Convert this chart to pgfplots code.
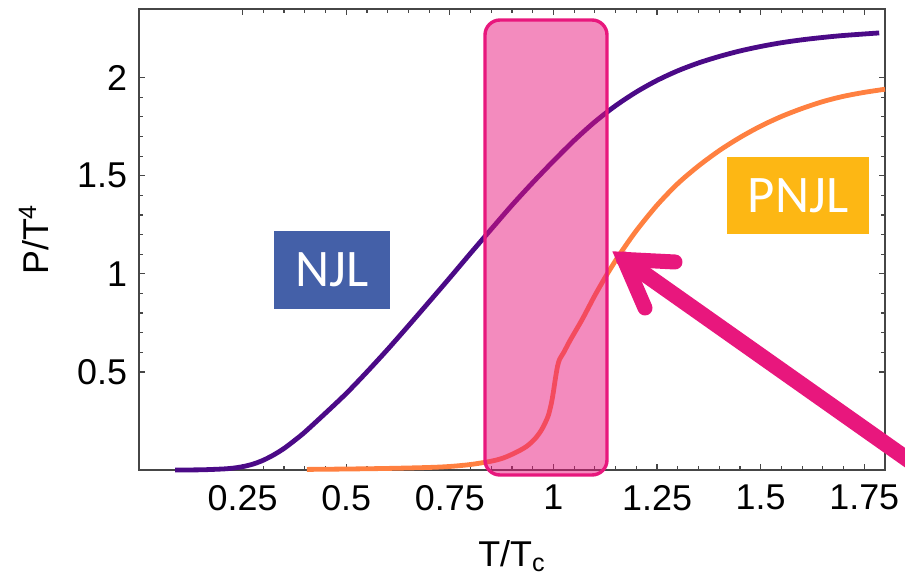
\documentclass[border=0pt]{standalone}
\usepackage{fontspec}
\setmainfont{Liberation Sans}
\newfontfamily\calibri{Carlito}
\usepackage{pgfplots}
\pgfplotsset{compat=1.18}
\definecolor{njl}{RGB}{75,10,135}
\definecolor{pnjl}{RGB}{255,128,64}
\definecolor{mag}{RGB}{232,23,125}
\definecolor{boxblue}{RGB}{68,96,168}
\definecolor{boxorange}{RGB}{253,183,20}
\definecolor{axgray}{RGB}{70,70,70}
\begin{document}
\begin{tikzpicture}
\path[use as bounding box] (-69.5bp,-53.5bp) rectangle (383bp,235bp);
\clip (-69.5bp,-53.5bp) rectangle (383bp,235bp);
\begin{axis}[
  at={(0,0)}, anchor=south west,
  scale only axis, width=373bp, height=230.5bp,
  xmin=0, xmax=1.8, ymin=0, ymax=2.35,
  xtick={0.25,0.5,0.75,1,1.25,1.5,1.75},
  xticklabels={0.25,0.5,0.75,1,1.25,1.5,1.75},
  ytick={0.5,1,1.5,2},
  yticklabels={0.5,1,1.5,2},
  minor x tick num=4, minor y tick num=4,
  tick align=inside,
  major tick length=3bp, minor tick length=2bp,
  every tick/.style={axgray, line width=0.6bp},
  axis line style={axgray, line width=0.8bp},
  tick label style={font=\fontsize{18}{20}\selectfont},
  /pgf/number format/assume math mode=true,
  xticklabel style={yshift=-4bp},
  yticklabel style={xshift=-2.5bp},
  xlabel={T/T\textsubscript{c}},
  ylabel={P/T\textsuperscript{4}},
  label style={font=\fontsize{18}{20}\selectfont},
  xlabel style={at={(axis description cs:0.5,-0.21)}, anchor=base},
  ylabel style={at={(axis description cs:-0.141,0.5)}, anchor=center},
  clip=false,
]
\addplot[njl, line width=2.4bp, smooth] coordinates {
(0.087,0.0) (0.15,0.001) (0.2,0.005) (0.225,0.009) (0.25,0.017) (0.275,0.03)
(0.3,0.05) (0.325,0.077) (0.35,0.11) (0.375,0.15) (0.4,0.193) (0.45,0.29)
(0.5,0.39) (0.55,0.5) (0.6,0.615) (0.65,0.735)
(0.7,0.857) (0.75,0.98) (0.8,1.105) (0.85,1.228) (0.9,1.35) (0.95,1.465)
(1.0,1.575) (1.05,1.68) (1.1,1.775) (1.15,1.857) (1.2,1.927) (1.25,1.986)
(1.3,2.035) (1.35,2.075) (1.4,2.108) (1.45,2.136) (1.5,2.159) (1.55,2.178)
(1.6,2.193) (1.65,2.205) (1.7,2.215) (1.786,2.228)
};
\addplot[pnjl, line width=2.4bp, smooth] coordinates {
(0.405,0.003) (0.5,0.005) (0.6,0.008) (0.7,0.013) (0.75,0.018) (0.8,0.028)
(0.85,0.045) (0.88,0.062) (0.91,0.09) (0.935,0.12) (0.955,0.158) (0.97,0.2)
(0.98,0.24) (0.988,0.28) (0.995,0.34) (1.0,0.40) (1.005,0.47) (1.01,0.53)
(1.015,0.565) (1.025,0.6) (1.04,0.66) (1.07,0.77) (1.1,0.89) (1.13,1.0)
(1.16,1.1) (1.2,1.22) (1.25,1.35) (1.3,1.46) (1.35,1.55) (1.4,1.628)
(1.45,1.695) (1.5,1.753) (1.55,1.802) (1.6,1.843) (1.65,1.878) (1.7,1.905)
(1.75,1.925) (1.8,1.941)
};
\end{axis}
% highlight box
\draw[mag, line width=1.7bp, fill=mag, fill opacity=0.5, draw opacity=1, rounded corners=7.5bp]
  (173bp,-2.5bp) rectangle (234bp,225bp);
% arrow
\draw[mag, line width=8bp, line cap=round] (242.5bp,105.3bp) -- (440bp,-34bp);
\draw[mag, line width=7.5bp, line cap=round, line join=miter, miter limit=20]
  (268bp,104bp) -- (242.5bp,105.3bp) -- (253bp,81bp);
% labels
\fill[boxblue] (67.5bp,80.5bp) rectangle (125.5bp,119.5bp);
\node[white, font=\calibri\fontsize{26.5}{28}\selectfont] at (96.5bp,100bp) {NJL};
\fill[boxorange] (294bp,118bp) rectangle (365bp,156.5bp);
\node[white, font=\calibri\fontsize{26.5}{28}\selectfont] at (329.5bp,137.25bp) {PNJL};
\end{tikzpicture}
\end{document}
